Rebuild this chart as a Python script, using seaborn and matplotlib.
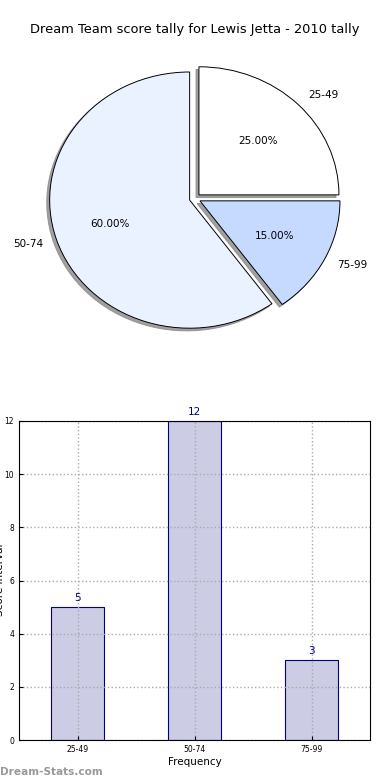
import numpy as np
import pandas as pd
import matplotlib
matplotlib.use('Agg')
import matplotlib.pyplot as plt
import seaborn as sns

# Data
intervals = ['25-49', '50-74', '75-99']
counts = [5, 12, 3]
pie_colors = ['#FFFFFF', '#EBF2FF', '#C6D9FF']
explode = [0.04, 0.04, 0.04]
title = 'Dream Team score tally for Lewis Jetta - 2010 tally'

df = pd.DataFrame({'interval': intervals, 'count': counts})

fig = plt.figure(figsize=(3.9, 7.8), dpi=100)

# Pie chart (non-equal aspect, like the original)
ax1 = fig.add_axes([0.0333, 0.532, 0.9333, 0.427])
ax1.pie(df['count'], labels=df['interval'], colors=pie_colors, explode=explode,
        autopct='%1.2f%%', shadow={'ox': -0.015, 'oy': -0.015, 'color': '#888888', 'alpha': 0.8},
        startangle=0,
        wedgeprops={'edgecolor': 'black', 'linewidth': 0.7},
        textprops={'fontsize': 7.5})
ax1.set_aspect('auto')
ax1.set_xlim(-1.3, 1.3)
ax1.set_ylim(-1.3, 1.3)
ax1.axis('off')

fig.text(0.5, 1 - 30 / 780, title, ha='center', va='center', fontsize=9.4)

# Bar chart
ax2 = fig.add_axes([19 / 390, 40 / 780, 351 / 390, 319 / 780])
sns.barplot(data=df, x='interval', y='count', color='#CCCCE5', saturation=1,
            edgecolor='#000080', linewidth=0.8, width=0.45, ax=ax2)
ax2.set_xlim(-0.5, 2.5)
ax2.set_ylim(0, 12)
ax2.set_yticks(range(0, 13, 2))
ax2.set_axisbelow(False)
ax2.grid(True, linestyle=':', color='#AAAAAA', linewidth=1)
ax2.tick_params(direction='in', labelsize=5.5, length=3, colors='black')
for s in ax2.spines.values():
    s.set_linewidth(0.8)
    s.set_zorder(5)
ax2.set_xlabel('Frequency', fontsize=7.5, labelpad=2)
ax2.set_ylabel('')
for i, v in enumerate(counts):
    ax2.text(i, v + 0.15, str(v), ha='center', va='bottom', color='#000080', fontsize=7.5)

# y label partly off the left edge, as in the reference
fig.text(0.001, 200 / 780, 'Score Interval', rotation=90,
         ha='center', va='center', fontsize=7.5)
fig.text(0.0, 8 / 780, 'Dream-Stats.com', ha='left', va='center', fontsize=7.6,
         fontweight='bold', color='#999999')

fig.savefig('out.png', dpi=100)
